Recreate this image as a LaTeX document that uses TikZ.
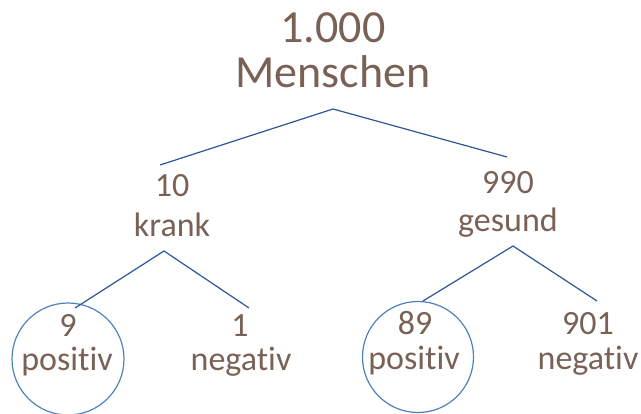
\documentclass[tikz,border=0pt]{standalone}
\usepackage{fontspec}
\setmainfont{Carlito}[Ligatures={NoCommon}]
\definecolor{txt}{HTML}{7A6156}
\definecolor{branch}{HTML}{2E5597}
\definecolor{ring}{HTML}{4F81BD}
\begin{document}
\begin{tikzpicture}[x=1pt,y=-1pt,
  big/.style={text=txt,anchor=base,inner sep=0pt,font=\fontsize{46}{46}\selectfont},
  lbl/.style={text=txt,anchor=base,inner sep=0pt,font=\fontsize{34}{34}\selectfont},
  branchline/.style={draw=branch,line width=1.2pt,line join=miter},
  hit/.style={draw=ring,line width=1.2pt}]
\useasboundingbox (0,0) rectangle (641,414);

% highlighted groups (true positives)
\draw[hit] (68,359) circle (56);
\draw[hit] (418,357) circle (55.5);

% root
\node[big] (rootn) at (333,43) {1.000};
\node[big] (roott) at (333,88) {Menschen};

% second level
\node[lbl] (krn) at (172,197) {10};
\node[lbl] (krt) at (172,237) {krank};
\node[lbl] (gen) at (508,194) {990};
\node[lbl] (get) at (508,232) {gesund};

% leaves
\node[lbl] (kpn) at (68,337) {9};
\node[lbl] (kpt) at (67,371) {positiv};
\node[lbl] (knn) at (240,337) {1};
\node[lbl] (knt) at (241,371) {negativ};
\node[lbl] (gpn) at (415,335) {89};
\node[lbl] (gpt) at (414,370) {positiv};
\node[lbl] (gnn) at (588,335) {901};
\node[lbl] (gnt) at (588,370) {negativ};

% branch points
\coordinate (rootapex) at (333,109);
\coordinate (kr) at (160,165);
\coordinate (ge) at (507,157);
\coordinate (krapex) at (164,251);
\coordinate (kp) at (75,308);
\coordinate (kn) at (249,308);
\coordinate (geapex) at (513,246);
\coordinate (gp) at (423,301);
\coordinate (gn) at (597,301);

\draw[branchline] (kr) -- (rootapex) -- (ge);
\draw[branchline] (kp) -- (krapex) -- (kn);
\draw[branchline] (gp) -- (geapex) -- (gn);
\end{tikzpicture}
\end{document}
